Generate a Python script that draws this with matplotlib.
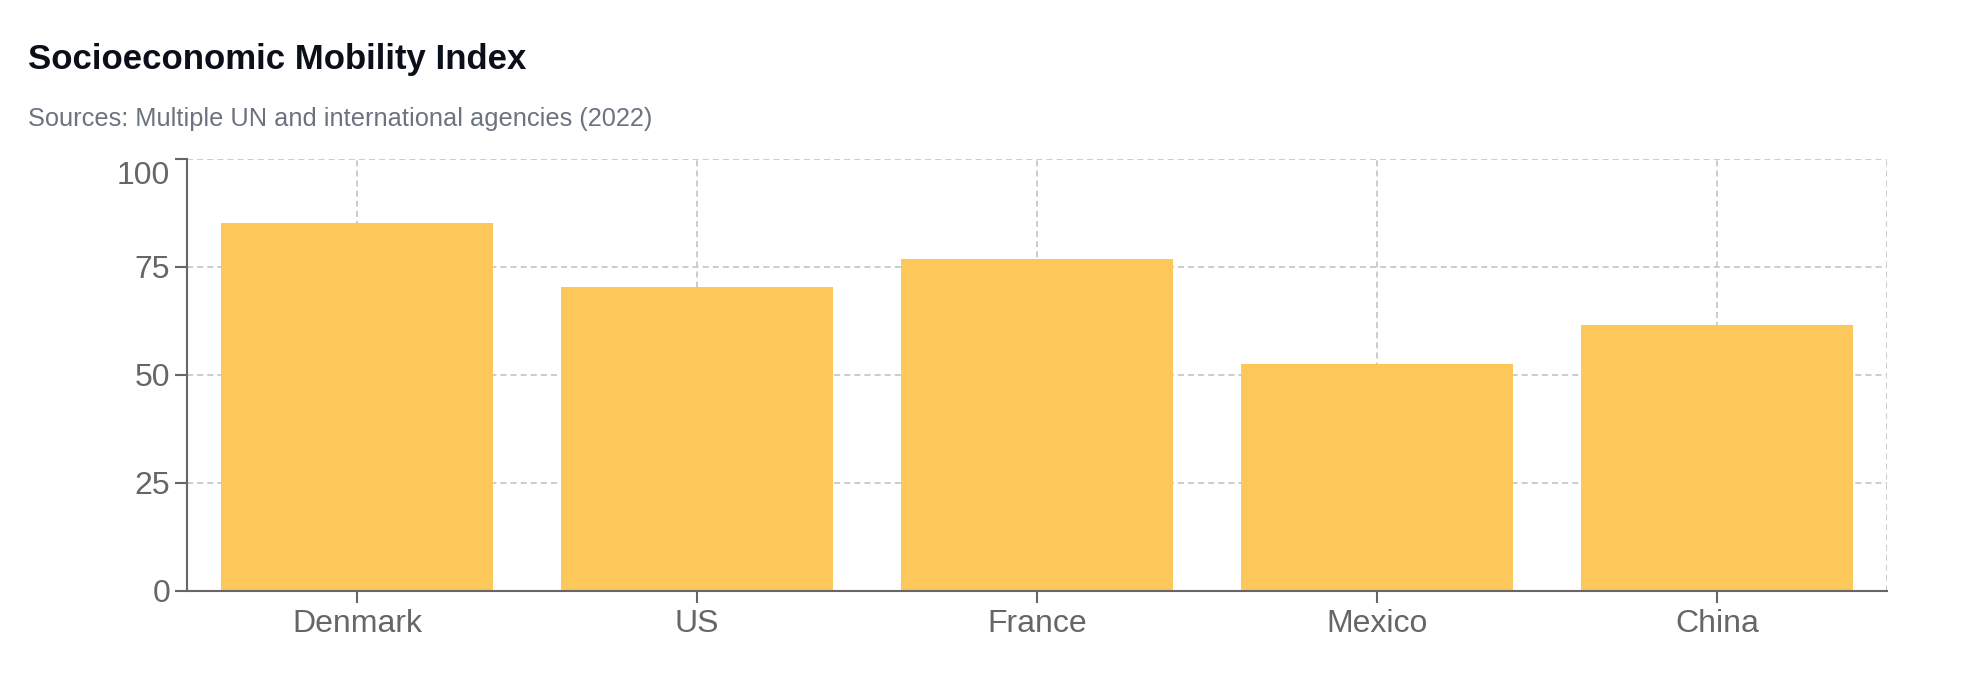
import matplotlib.pyplot as plt
import matplotlib.transforms as mtransforms

# data
countries = ['Denmark', 'US', 'France', 'Mexico', 'China']
mobility = [85.2, 70.4, 76.8, 52.6, 61.5]
yticks = [0, 25, 50, 75, 100]

plt.rcParams['font.family'] = ['Liberation Sans', 'DejaVu Sans']

fig = plt.figure(figsize=(19.76, 6.9), dpi=100)
ax = fig.add_axes([0.0946, 0.144, 0.8604, 0.6256])

x = range(len(countries))
ax.bar(x, mobility, width=0.8, color='#FEC75A', zorder=3)

ax.set_xlim(-0.5, len(countries) - 0.5)
ax.set_ylim(0, 100)
ax.set_yticks(yticks)
ax.set_xticks(list(x))
ax.set_xticklabels(countries)

# dashed grid
dash = (0, (3.1, 2.1))
ax.grid(True, color='#cccccc', linestyle=dash, linewidth=1.4, zorder=0)
ax.axvline(len(countries) - 0.5, color='#cccccc', linestyle=dash, linewidth=1.4, zorder=0)

for s in ['top', 'right']:
    ax.spines[s].set_visible(False)
for s in ['left', 'bottom']:
    ax.spines[s].set_color('#666666')
    ax.spines[s].set_linewidth(1.5)
    ax.spines[s].set_zorder(4)

ax.tick_params(colors='#666666', labelsize=23, length=8.5, width=1.5)
ax.tick_params(axis='y', pad=3.5)
ax.tick_params(axis='x', pad=4.5)

# top label sits a bit below its tick, like the original
fig.canvas.draw()
top = ax.get_yticklabels()[-1]
top.set_transform(top.get_transform() +
                  mtransforms.ScaledTranslation(0, -10 / 72, fig.dpi_scale_trans))

fig.text(0.0142, 0.90, 'Socioeconomic Mobility Index', fontsize=25, fontweight='bold',
         color='#0b0f1a', ha='left', va='baseline')
fig.text(0.0142, 0.818, 'Sources: Multiple UN and international agencies (2022)', fontsize=18.3,
         color='#6b7280', ha='left', va='baseline')

plt.savefig('out.png', dpi=100)
